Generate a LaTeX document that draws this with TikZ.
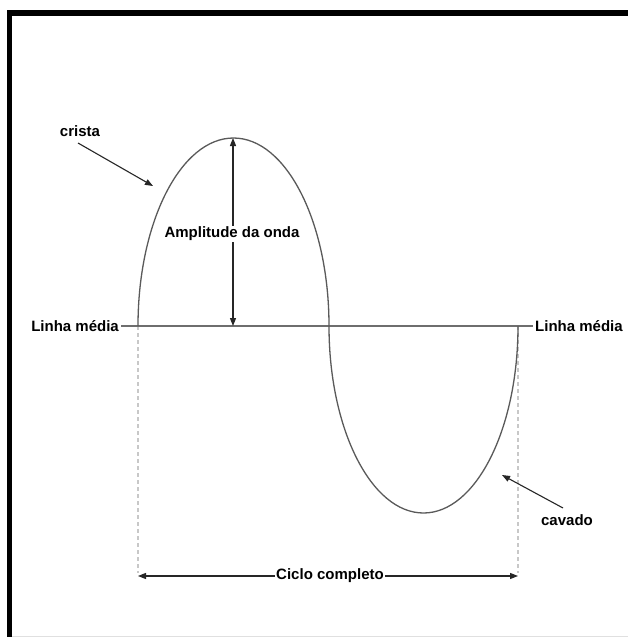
\documentclass[tikz,border=0pt]{standalone}
\usepackage{fontspec}
\setmainfont{Liberation Sans}
\usetikzlibrary{arrows.meta}
\definecolor{wavegray}{HTML}{5A5A5A}
\definecolor{linegray}{HTML}{6E6E6E}
\definecolor{dashgray}{HTML}{C8C8C8}
\begin{document}
\begin{tikzpicture}[x=1pt,y=-1pt,
  lbl/.style={font=\fontsize{15}{17}\selectfont\bfseries, inner sep=2pt, text=black},
  wavepath/.style={draw=wavegray, line width=1.3pt},
  midpath/.style={draw=linegray, line width=1.4pt},
  guide/.style={draw=dashgray, line width=1.4pt, dash pattern=on 4pt off 3pt},
  pointer/.style={draw=black!85, line width=1.1pt, -{Triangle[length=8pt,width=6pt]}},
  dimline/.style={draw=black!85, line width=1.1pt}
]
\useasboundingbox (0,0) rectangle (628,637);
\fill[white] (0,0) rectangle (628,637);
% frame
\draw[black, line width=6pt] (7,13) -- (628,13);
\draw[black, line width=5pt] (9.7,10) -- (9.7,637);
\draw[black!12, line width=1pt] (12,636.3) -- (628,636.3);

% coordinates
\coordinate (s) at (138,326);
\coordinate (z) at (329,326);
\coordinate (e) at (518,326);
\coordinate (peak) at (233,138);
\coordinate (base) at (233,326);
\coordinate (cs) at (138,576);
\coordinate (ce) at (518,576);
\coordinate (gs) at (138,573);
\coordinate (ge) at (518,573);

% guides
\draw[guide] (s) -- (gs);
\draw[guide] (e) -- (ge);

% labels on midline
\node[lbl, anchor=east] (lmL) at (121,326) {Linha média};
\node[lbl, anchor=west] (lmR) at (533,326) {Linha média};
\draw[midpath] (lmL.east) -- (lmR.west);

% wave
\draw[wavepath] (s) arc[start angle=180, end angle=360, x radius=95.5, y radius=188]
  arc[start angle=180, end angle=0, x radius=94.5, y radius=187];

% amplitude
\node[lbl, inner sep=1pt] (amp) at (232,234) {Amplitude da onda};
\draw[pointer] (amp.north -| peak) -- (peak);
\draw[pointer] (amp.south -| peak) -- (base);

% crista
\node[lbl] (crista) at (80,131) {crista};
\coordinate (cr1) at (78,143);
\coordinate (cr2) at (153,186);
\draw[pointer] (cr1) -- (cr2);

% cavado
\node[lbl] (cavado) at (567,520) {cavado};
\coordinate (cv1) at (563,508);
\coordinate (cv2) at (502,475);
\draw[pointer] (cv1) -- (cv2);

% ciclo completo
\node[lbl, inner sep=1pt] (ciclo) at (330,576) {Ciclo completo};
\draw[pointer] (ciclo.west) -- (cs);
\draw[pointer] (ciclo.east) -- (ce);
\end{tikzpicture}
\end{document}
